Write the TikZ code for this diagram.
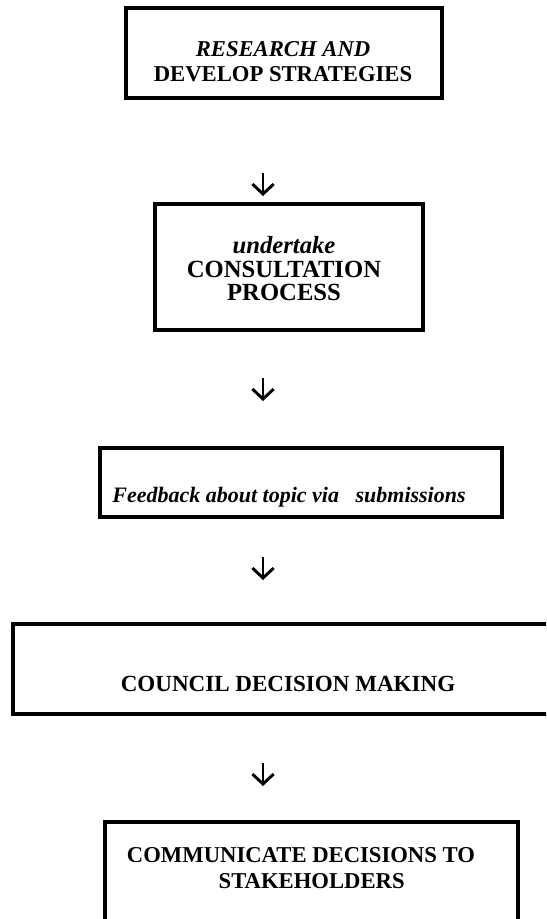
\documentclass[tikz,border=0pt]{standalone}
\usepackage{fontspec}
\setmainfont{Liberation Serif}
\usetikzlibrary{arrows.meta}

\begin{document}
\begin{tikzpicture}[x=0.75pt,y=-0.75pt]
\tikzstyle{box}=[draw,line width=2.5pt,rectangle,inner sep=0pt]
\tikzstyle{txt}=[align=center,inner sep=0pt,font=\fontsize{17pt}{19pt}\selectfont\bfseries]
\tikzstyle{down}=[line width=2.2pt,-{Straight Barb[length=7.5pt,width=16pt]}]
\clip (0,0) rectangle (546,919);
% boxes
\node[box,minimum width=237pt,minimum height=67.5pt] (1) at (284,53){};
\node[box,minimum width=201pt,minimum height=94.5pt] (2) at (289,267){};
\node[box,minimum width=301.5pt,minimum height=51.75pt] (3) at (301,482.5){};
\node[box,minimum width=416.25pt,minimum height=67.5pt] (4) at (290.5,669){};
\node[box,minimum width=309.75pt,minimum height=88.5pt] (5) at (311.5,881){};
% texts
\node[txt] (t1) at (283,62) {\textit{RESEARCH AND}\\DEVELOP STRATEGIES};
\node[txt,font=\fontsize{18.5pt}{17.6pt}\selectfont\bfseries] (t2) at (284,269) {\textit{undertake}\\CONSULTATION\\PROCESS};
\node[txt,font=\fontsize{16.5pt}{19pt}\selectfont\bfseries] (t3) at (289,497) {\textit{Feedback about topic via \enspace submissions}};
\node[txt,font=\fontsize{17.3pt}{19pt}\selectfont\bfseries] (t4) at (288,684) {COUNCIL DECISION MAKING};
\node[txt] (t5) at (301,868) {COMMUNICATE DECISIONS TO\\\hspace*{16pt}STAKEHOLDERS};
% arrows
\coordinate (a1) at (263,173); \coordinate (b1) at (263,196);
\coordinate (a2) at (263,378); \coordinate (b2) at (263,401);
\coordinate (a3) at (263,557); \coordinate (b3) at (263,580);
\coordinate (a4) at (263,763); \coordinate (b4) at (263,786);
\draw[down] (a1) -- (b1);
\draw[down] (a2) -- (b2);
\draw[down] (a3) -- (b3);
\draw[down] (a4) -- (b4);
\end{tikzpicture}
\end{document}
